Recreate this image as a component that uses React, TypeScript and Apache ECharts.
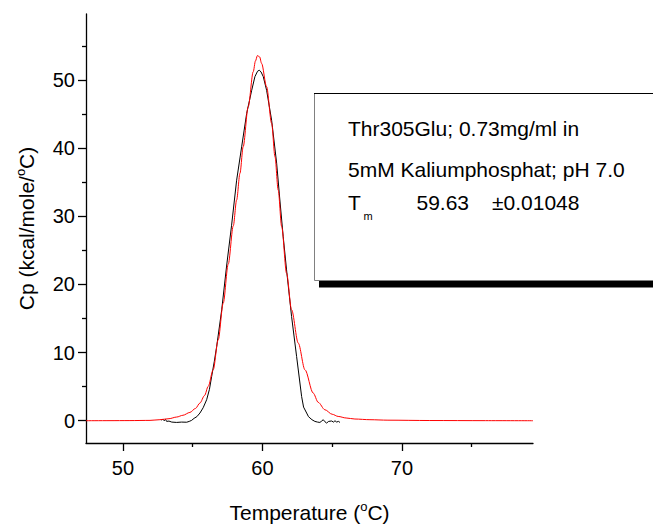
import React, { useEffect, useRef } from "react";
import * as echarts from "echarts";

const FONT = "'Liberation Sans', Arial, sans-serif";

// Axis ticks
const xMajorTicks = [50, 60, 70];
const xMinorTicks = [55, 65, 75];
const yMajorTicks = [0, 10, 20, 30, 40, 50];
const yMinorTicks = [5, 15, 25, 35, 45, 55];

// Measured DSC data (black)
const dataTemp = [
  52.77, 52.85, 52.95, 53.05, 53.13, 53.3, 53.5, 53.85, 54.2, 54.57, 54.75, 54.92,
  55.1, 55.3, 55.52, 55.75, 56.0, 56.2, 56.36, 56.55, 56.72, 57.08, 57.43, 57.79,
  58.15, 58.51, 58.87, 59.23, 59.46, 59.65, 59.77, 59.9, 60.06, 60.3, 60.66, 61.02,
  61.25, 61.49, 61.73, 62.09, 62.45, 62.81, 62.95, 63.17, 63.3, 63.41, 63.55, 63.76,
  63.95, 64.12, 64.25, 64.36, 64.48, 64.6, 64.75, 64.96, 65.1, 65.2, 65.32, 65.45, 65.56,
];
const dataCp = [
  0.05, 0.25, 0.0, 0.2, -0.1, -0.05, -0.2, -0.25, -0.2, -0.22, -0.1, 0.05,
  0.35, 0.6, 1.13, 1.9, 3.08, 4.6, 6.5, 8.7, 10.89, 16.28, 22.7, 28.7,
  35.3, 40.2, 45.1, 48.5, 50.5, 51.3, 51.45, 51.2, 50.5, 48.5, 44.1, 37.8,
  32.4, 27.0, 22.14, 15.29, 9.43, 3.56, 2.0, 1.13, 0.6, 0.4, 0.15, -0.1,
  -0.2, -0.25, -0.05, 0.15, -0.15, -0.34, -0.1, -0.04, -0.2, 0.0, -0.19, -0.1, -0.25,
];

// Fitted curve (red)
const fitTemp = [
  47.35, 49, 50.5, 51.94, 52.65, 53.3, 53.85, 54.3, 54.8, 55.2, 55.52, 55.85, 56.11,
  56.47, 56.83, 57.19, 57.55, 57.91, 58.15, 58.39, 58.62, 58.98, 59.34, 59.5, 59.64,
  59.8, 59.94, 60.3, 60.66, 60.9, 61.13, 61.38, 61.73, 62.09, 62.57, 63.05, 63.64, 64.0,
  64.48, 65.0, 65.43, 66.0, 66.63, 67.71, 69, 72, 76, 79.4,
];
const fitCp = [
  0.0, 0.01, 0.02, 0.05, 0.15, 0.3, 0.54, 0.8, 1.22, 1.8, 2.6, 3.7, 5.03,
  7.48, 11.88, 17.26, 23.0, 28.6, 32.4, 36.32, 40.22, 46.09, 51.22, 52.8, 53.6,
  53.4, 52.45, 49.02, 43.65, 38.75, 33.87, 28.49, 21.66, 16.28, 11.39, 7.48, 4.06, 2.7,
  1.61, 0.95, 0.63, 0.4, 0.25, 0.15, 0.08, 0.03, 0.01, 0.0,
];

const xMin = 47.35;
const xMax = 79.4;
const yMin = -3.27;
const yMax = 59.7;

const legendLine1 = "Thr305Glu; 0.73mg/ml in";
const legendLine2 = "5mM Kaliumphosphat; pH 7.0";
const tmLabel = "T";
const tmSub = "m";
const tmValue = "59.63";
const tmError = "\u00b10.01048";

export default function App() {
  const ref = useRef<HTMLDivElement>(null);

  useEffect(() => {
    if (!ref.current) return;
    const chart = echarts.init(ref.current, undefined, { renderer: "svg" });

    const lineStyle = { color: "#000", width: 1.3 };
    const nameStyle = {
      fontSize: 21,
      fontFamily: FONT,
      color: "#000",
      lineHeight: 24,
      rich: {
        sup: { fontSize: 13, lineHeight: 16, verticalAlign: "top", fontFamily: FONT, color: "#000" },
      },
    };

    const option: any = {
      animation: false,
      backgroundColor: "#fff",
      grid: {
        left: 86,
        right: 120,
        top: 14,
        bottom: 85,
        containLabel: false,
        outerBoundsMode: "none",
      },
      xAxis: [
        {
          type: "value",
          min: xMin,
          max: xMax,
          position: "bottom",
          name: "Temperature ({sup|o}C)",
          nameLocation: "middle",
          nameGap: 57,
          nameMoveOverlap: false,
          nameTextStyle: nameStyle,
          axisLine: { show: true, onZero: false, lineStyle },
          axisTick: { show: true, inside: false, length: 8, customValues: xMajorTicks, lineStyle },
          axisLabel: {
            customValues: xMajorTicks,
            margin: 15,
            fontSize: 20,
            lineHeight: 20,
            fontFamily: FONT,
            color: "#000",
          },
          splitLine: { show: false },
          minorTick: { show: false },
        },
        {
          type: "value",
          min: xMin,
          max: xMax,
          position: "bottom",
          axisLine: { show: false, onZero: false },
          axisTick: { show: true, inside: false, length: 4, customValues: xMinorTicks, lineStyle },
          axisLabel: { show: false },
          splitLine: { show: false },
        },
      ],
      yAxis: [
        {
          type: "value",
          min: yMin,
          max: yMax,
          position: "left",
          name: "Cp (kcal/mole/{sup|o}C)",
          nameLocation: "middle",
          nameGap: 48,
          nameMoveOverlap: false,
          nameTextStyle: nameStyle,
          axisLine: { show: true, onZero: false, lineStyle },
          axisTick: { show: true, inside: false, length: 8, customValues: yMajorTicks, lineStyle },
          axisLabel: {
            customValues: yMajorTicks,
            margin: 11,
            fontSize: 20,
            lineHeight: 20,
            fontFamily: FONT,
            color: "#000",
          },
          splitLine: { show: false },
        },
        {
          type: "value",
          min: yMin,
          max: yMax,
          position: "left",
          axisLine: { show: false, onZero: false },
          axisTick: { show: true, inside: false, length: 4, customValues: yMinorTicks, lineStyle },
          axisLabel: { show: false },
          splitLine: { show: false },
        },
      ],
      series: [
        {
          type: "line",
          name: "data",
          xAxisIndex: 0,
          yAxisIndex: 0,
          data: dataTemp.map((t, i) => [t, dataCp[i]]),
          showSymbol: false,
          symbol: "none",
          lineStyle: { color: "#000", width: 1 },
          smooth: false,
          z: 2,
        },
        {
          type: "line",
          name: "fit",
          xAxisIndex: 0,
          yAxisIndex: 0,
          data: fitTemp.map((t, i) => [t, fitCp[i]]),
          showSymbol: false,
          symbol: "none",
          lineStyle: { color: "#ff0000", width: 1 },
          smooth: 0.3,
          smoothMonotone: "x",
          z: 3,
        },
      ],
      graphic: [
        {
          type: "rect",
          shape: { x: 319, y: 281, width: 340, height: 6.5 },
          style: { fill: "#000" },
          z: 10,
        },
        {
          type: "rect",
          shape: { x: 314.5, y: 93.5, width: 345, height: 187 },
          style: { fill: "#fff", stroke: "#808080", lineWidth: 1 },
          z: 11,
        },
        {
          type: "line",
          shape: { x1: 314, y1: 93.5, x2: 660, y2: 93.5 },
          style: { stroke: "#000", lineWidth: 1 },
          z: 12,
        },
        {
          type: "text",
          x: 348,
          y: 128,
          z: 12,
          style: { text: legendLine1, fontSize: 21, fontFamily: FONT, fill: "#000", align: "left", verticalAlign: "middle" },
        },
        {
          type: "text",
          x: 348,
          y: 169,
          z: 12,
          style: { text: legendLine2, fontSize: 21, fontFamily: FONT, fill: "#000", align: "left", verticalAlign: "middle" },
        },
        {
          type: "text",
          x: 348,
          y: 202,
          z: 12,
          style: { text: tmLabel, fontSize: 21, fontFamily: FONT, fill: "#000", align: "left", verticalAlign: "middle" },
        },
        {
          type: "text",
          x: 363.5,
          y: 216,
          z: 12,
          style: { text: tmSub, fontSize: 11, fontFamily: FONT, fill: "#000", align: "left", verticalAlign: "middle" },
        },
        {
          type: "text",
          x: 416.5,
          y: 202,
          z: 12,
          style: { text: tmValue, fontSize: 21, fontFamily: FONT, fill: "#000", align: "left", verticalAlign: "middle" },
        },
        {
          type: "text",
          x: 492,
          y: 202,
          z: 12,
          style: { text: tmError, fontSize: 21, fontFamily: FONT, fill: "#000", align: "left", verticalAlign: "middle" },
        },
      ],
    };

    chart.setOption(option);
    return () => {
      chart.dispose();
    };
  }, []);

  return (
    <div
      ref={ref}
      style={{ position: "fixed", left: 0, top: 0, width: 653, height: 528, background: "#fff" }}
    />
  );
}
